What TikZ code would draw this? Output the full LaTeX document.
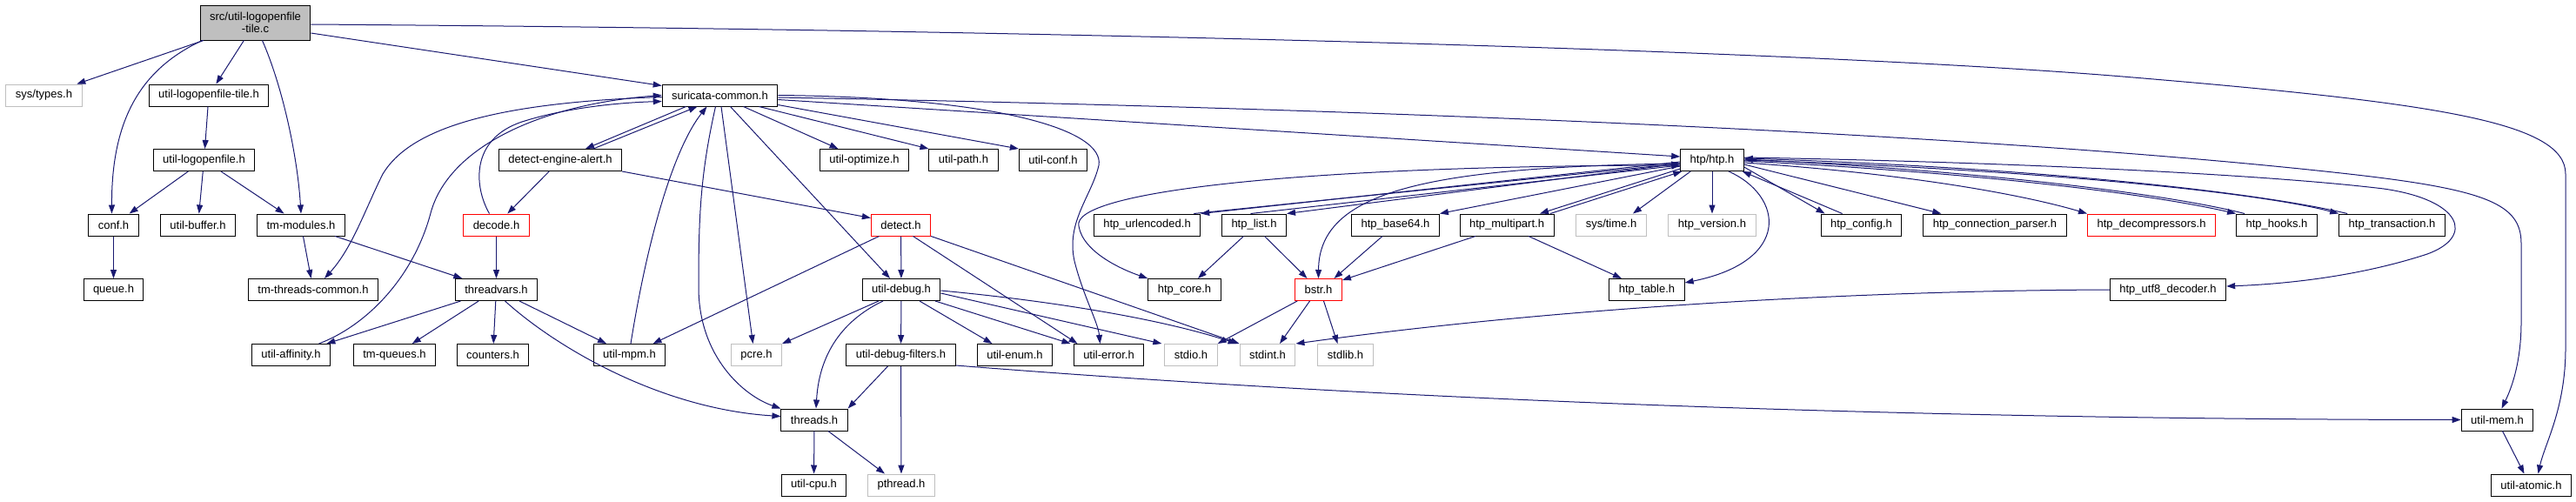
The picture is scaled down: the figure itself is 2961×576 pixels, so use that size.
\documentclass[tikz,border=0pt]{standalone}
\usepackage{fontspec}
\setmainfont{Liberation Sans}
\usetikzlibrary{arrows.meta}
\definecolor{edgeblue}{HTML}{191970}
\definecolor{sysgray}{HTML}{BFBFBF}
\tikzset{
  header/.style={
    draw=black, fill=white, line width=1pt,
    font=\fontsize{13}{14}\selectfont,
    minimum height=25pt, inner xsep=11pt, inner ysep=2pt
  },
  sysheader/.style={header, draw=sysgray},
  redheader/.style={header, draw=red},
  mainfile/.style={header, fill=sysgray, align=center, minimum height=40pt},
  incl/.style={draw=edgeblue, line width=1pt, -{Triangle[length=10pt,width=7pt]}}
}

\begin{document}
\begin{tikzpicture}[x=1pt, y=-1pt]
\useasboundingbox (0,0) rectangle (2961,576);

% ---------- source file ----------
\node[mainfile] (root) at (293.5,26) {src/util-logopenfile\\-tile.c};

% ---------- row 1 ----------
\node[sysheader] (systypes)   at (50.5,109.5)  {sys/types.h};
\node[header]    (logtile)    at (240,109.5)   {util-logopenfile-tile.h};
\node[header]    (suricommon) at (827.5,109.5) {suricata-common.h};

% ---------- row 2 ----------
\node[header] (logopen)  at (234.5,184)  {util-logopenfile.h};
\node[header] (alert)    at (644,184)    {detect-engine-alert.h};
\node[header] (optimize) at (993.5,184)  {util-optimize.h};
\node[header] (upath)    at (1107.5,184) {util-path.h};
\node[header] (uconf)    at (1210.5,184) {util-conf.h};
\node[header] (htp)      at (1968,184)   {htp/htp.h};

% ---------- row 3 ----------
\node[header]    (conf)        at (130.5,258.5)  {conf.h};
\node[header]    (buffer)      at (227.5,258.5)  {util-buffer.h};
\node[header]    (tmmodules)   at (346,258.5)    {tm-modules.h};
\node[redheader] (decode)      at (570.5,258.5)  {decode.h};
\node[redheader] (detect)      at (1035.5,258.5) {detect.h};
\node[header]    (urlenc)      at (1318.5,258.5) {htp\_urlencoded.h};
\node[header]    (htplist)     at (1441.5,258.5) {htp\_list.h};
\node[header]    (base64)      at (1604,258.5)   {htp\_base64.h};
\node[header]    (multipart)   at (1732,258.5)   {htp\_multipart.h};
\node[sysheader] (systime)     at (1852,258.5)   {sys/time.h};
\node[sysheader] (version)     at (1968,258.5)   {htp\_version.h};
\node[header]    (config)      at (2139.5,258.5) {htp\_config.h};
\node[header]    (connparser)  at (2293,258.5)   {htp\_connection\_parser.h};
\node[redheader] (decomp)      at (2473,258.5)   {htp\_decompressors.h};
\node[header]    (hooks)       at (2617,258.5)   {htp\_hooks.h};
\node[header]    (transaction) at (2749.5,258.5) {htp\_transaction.h};

% ---------- row 4 ----------
\node[header]    (queue)      at (130.5,333)  {queue.h};
\node[header]    (tmthreads)  at (360,333)    {tm-threads-common.h};
\node[header]    (threadvars) at (570.5,333)  {threadvars.h};
\node[header]    (udebug)     at (1036,333)   {util-debug.h};
\node[header]    (htpcore)    at (1361.5,333) {htp\_core.h};
\node[redheader] (bstr)       at (1515.5,333) {bstr.h};
\node[header]    (table)      at (1893,333)   {htp\_table.h};
\node[header]    (utf8)       at (2492,333)   {htp\_utf8\_decoder.h};

% ---------- row 5 ----------
\node[header]    (affinity)   at (334.5,408)  {util-affinity.h};
\node[header]    (tmqueues)   at (453.5,408)  {tm-queues.h};
\node[header]    (counters)   at (566.5,408)  {counters.h};
\node[header]    (umpm)       at (723.5,408)  {util-mpm.h};
\node[sysheader] (pcre)       at (869.5,408)  {pcre.h};
\node[header]    (dbgfilters) at (1035.5,408) {util-debug-filters.h};
\node[header]    (uenum)      at (1166.5,408) {util-enum.h};
\node[header]    (uerror)     at (1274.5,408) {util-error.h};
\node[sysheader] (stdio)      at (1369,408)   {stdio.h};
\node[sysheader] (stdint)     at (1457,408)   {stdint.h};
\node[sysheader] (stdlib)     at (1546.5,408) {stdlib.h};

% ---------- rows 6 and 7 ----------
\node[header]    (threads) at (936,482.5)    {threads.h};
\node[header]    (umem)    at (2870.5,482.5) {util-mem.h};
\node[header]    (ucpu)    at (935.5,557.5)  {util-cpu.h};
\node[sysheader] (pthread) at (1036,557.5)   {pthread.h};
\node[header]    (uatomic) at (2909.5,557.5) {util-atomic.h};

% ---------- from the source file ----------
\draw[incl] (root) -- (systypes);
\draw[incl] ([xshift=3pt]root.south west) .. controls (160,80) and (128,140) .. ([xshift=-2pt]conf.north);
\draw[incl] (root) -- (logtile);
\draw[incl] ([xshift=8pt]root.south) .. controls (325,100) and (342,180) .. (tmmodules.north);
\draw[incl] ([yshift=-12pt]root.east) -- ([yshift=11pt]suricommon.west);
\draw[incl] ([yshift=-2pt]root.east) .. controls (1300,35) and (2100,60) .. (2440,88)
  .. controls (2800,118) and (2949,140) .. (2949,200) -- (2949,400)
  .. controls (2949,470) and (2925,510) .. ([xshift=8pt]uatomic.north);

\draw[incl] (logtile) -- (logopen);
\draw[incl] (logopen) -- (conf);
\draw[incl] (logopen) -- (buffer);
\draw[incl] (logopen) -- (tmmodules);
\draw[incl] (conf) -- (queue);
\draw[incl] (tmmodules) -- (tmthreads);
\draw[incl] (tmmodules) -- (threadvars);

% ---------- suricata-common.h ----------
\draw[incl] ([yshift=-2pt]suricommon.west) .. controls (560,118) and (470,150) .. (440,200)
  .. controls (420,240) and (405,285) .. ([xshift=13pt]tmthreads.north);
\draw[incl] ([xshift=32pt]affinity.north) .. controls (420,375) and (475,320) .. (495,245)
  .. controls (515,170) and (620,120) .. (suricommon.west);
\draw[incl] ([xshift=-8pt]decode.north) .. controls (545,215) and (540,160) .. (600,140)
  .. controls (650,124) and (710,118) .. ([yshift=-7pt]suricommon.west);
\draw[incl] ([xshift=-39pt]suricommon.south) -- ([xshift=29pt]alert.north);
\draw[incl] ([xshift=38pt]alert.north) -- ([xshift=-26pt]suricommon.south);
\draw[incl] ([xshift=1.5pt]umpm.north) .. controls (745,270) and (775,170) .. ([xshift=-15pt]suricommon.south);
\draw[incl] ([xshift=-5pt]suricommon.south) .. controls (805,200) and (803,250) .. (803,330)
  .. controls (803,410) and (855,455) .. (threads.north west);
\draw[incl] ([xshift=1.5pt]suricommon.south) -- ([xshift=-4pt]pcre.north);
\draw[incl] ([xshift=12pt]suricommon.south) -- ([xshift=-13pt]udebug.north);
\draw[incl] ([xshift=27pt]suricommon.south) -- ([xshift=-30pt]optimize.north);
\draw[incl] ([xshift=45pt]suricommon.south) -- (upath.north west);
\draw[incl] ([yshift=2pt]suricommon.south east) -- (uconf.north west);
\draw[incl] (suricommon.east) .. controls (1150,112) and (1270,150) .. (1263,190)
  .. controls (1255,225) and (1225,255) .. (1235,300)
  .. controls (1245,340) and (1262,370) .. ([xshift=-10pt]uerror.north);
\draw[incl] ([yshift=-5pt]suricommon.east) -- ([yshift=4pt]htp.west);
\draw[incl] ([yshift=-2.5pt]suricommon.east) .. controls (1600,125) and (2300,155) .. (2700,200)
  .. controls (2860,218) and (2898,235) .. (2898,280) -- (2898,370)
  .. controls (2898,420) and (2885,450) .. ([xshift=5pt]umem.north);

% ---------- detect-engine-alert.h, decode.h, threadvars.h ----------
\draw[incl] (alert) -- (decode);
\draw[incl] (alert.south east) -- ([yshift=8pt]detect.west);
\draw[incl] (decode) -- (threadvars);
\draw[incl] (threadvars) -- (affinity);
\draw[incl] (threadvars) -- (tmqueues);
\draw[incl] (threadvars) -- (counters);
\draw[incl] (threadvars) -- (umpm);
\draw[incl] ([xshift=10pt]threadvars.south) .. controls (640,400) and (760,470) .. ([yshift=4pt]threads.west);

% ---------- detect.h ----------
\draw[incl] ([xshift=-25pt]detect.south) -- ([xshift=27pt]umpm.north);
\draw[incl] (detect) -- (udebug);
\draw[incl] ([xshift=14pt]detect.south) -- ([xshift=-36pt]uerror.north);
\draw[incl] (detect.south east) -- (stdint.north west);

% ---------- util-debug.h ----------
\draw[incl] ([xshift=-26pt]udebug.south) -- (pcre.north east);
\draw[incl] ([xshift=-21pt]udebug.south) .. controls (975,365) and (942,400) .. ([xshift=2pt]threads.north);
\draw[incl] (udebug) -- (dbgfilters);
\draw[incl] ([xshift=21pt]udebug.south) -- ([xshift=-26pt]uenum.north);
\draw[incl] ([xshift=39pt]udebug.south) -- ([xshift=-44pt]uerror.north);
\draw[incl] ([yshift=-4pt]udebug.east) -- ([xshift=-3pt]stdio.north west);
\draw[incl] ([yshift=-1pt]udebug.east) .. controls (1200,345) and (1330,365) .. ([xshift=-3pt]stdint.north west);

% ---------- util-debug-filters.h, threads.h, util-mem.h ----------
\draw[incl] ([xshift=-15pt]dbgfilters.south) -- (threads.north east);
\draw[incl] (dbgfilters) -- (pthread);
\draw[incl] ([yshift=-12pt]dbgfilters.east) .. controls (1600,460) and (2200,482) .. (umem.west);
\draw[incl] (threads) -- (ucpu);
\draw[incl] ([xshift=16pt]threads.south) -- ([xshift=-19pt]pthread.north);
\draw[incl] ([xshift=6pt]umem.south) -- ([xshift=-8pt]uatomic.north);

% ---------- htp/htp.h ----------
\draw[incl] ([yshift=-6pt]htp.west) .. controls (1500,190) and (1230,220) .. (1240,260)
  .. controls (1245,290) and (1290,310) .. (htpcore.north west);
\draw[incl] ([yshift=-2pt]htp.west) -- (urlenc.north east);
\draw[incl] ([xshift=-8pt]urlenc.north east) -- ([yshift=-4pt]htp.west);
\draw[incl] ([yshift=-4pt]htp.west) -- (htplist.north east);
\draw[incl] ([xshift=-4pt]htplist.north) -- ([yshift=-6pt]htp.west);
\draw[incl] ([yshift=-4pt]htp.west) .. controls (1640,192) and (1516,220) .. (bstr.north);
\draw[incl] ([yshift=-7pt]htp.west) -- (base64.north east);
\draw[incl] ([yshift=-10pt]htp.west) -- ([xshift=38pt]multipart.north);
\draw[incl] ([xshift=50pt]multipart.north) -- ([xshift=2pt]htp.south west);
\draw[incl] ([xshift=12pt]htp.south west) -- ([xshift=25pt]systime.north);
\draw[incl] (htp) -- (version);
\draw[incl] ([xshift=19pt]htp.south) .. controls (2050,225) and (2060,300) .. ([yshift=8pt]table.east);
\draw[incl] ([yshift=-8pt]htp.east) -- ([xshift=5pt]config.north west);
\draw[incl] ([xshift=25pt]config.north west) -- ([xshift=-2pt]htp.south east);
\draw[incl] ([yshift=-5pt]htp.east) -- ([xshift=21pt]connparser.north west);
\draw[incl] ([yshift=-3pt]htp.east) .. controls (2200,200) and (2330,225) .. (decomp.north west);
\draw[incl] ([yshift=-1pt]htp.east) .. controls (2300,200) and (2480,225) .. (hooks.north west);
\draw[incl] ([xshift=10pt]hooks.north west) .. controls (2500,225) and (2300,198) .. ([yshift=1pt]htp.east);
\draw[incl] (htp.east) .. controls (2350,195) and (2600,222) .. (transaction.north west);
\draw[incl] ([xshift=10pt]transaction.north west) .. controls (2600,222) and (2350,193) .. ([yshift=2pt]htp.east);
\draw[incl] ([yshift=3pt]htp.east) .. controls (2300,186) and (2600,200) .. (2740,217)
  .. controls (2830,230) and (2845,272) .. (2790,292)
  .. controls (2720,315) and (2640,326) .. ([yshift=4pt]utf8.east);

% ---------- htp headers below ----------
\draw[incl] ([xshift=12pt]htplist.south) -- ([xshift=-13pt]bstr.north);
\draw[incl] ([xshift=-12pt]htplist.south) -- ([xshift=15.5pt]htpcore.north);
\draw[incl] ([xshift=-15pt]base64.south) -- ([xshift=18pt]bstr.north);
\draw[incl] ([xshift=-36pt]multipart.south) -- ([yshift=-2pt]bstr.north east);
\draw[incl] ([xshift=25pt]multipart.south) -- ([xshift=-29pt]table.north);
\draw[incl] (utf8.west) .. controls (2150,334) and (1800,352) .. (stdint.north east);

% ---------- bstr.h ----------
\draw[incl] ([xshift=3pt]bstr.south west) -- (stdio.north east);
\draw[incl] ([xshift=-10pt]bstr.south) -- ([xshift=14pt]stdint.north);
\draw[incl] ([xshift=6pt]bstr.south) -- ([xshift=-9pt]stdlib.north);

\end{tikzpicture}
\end{document}
